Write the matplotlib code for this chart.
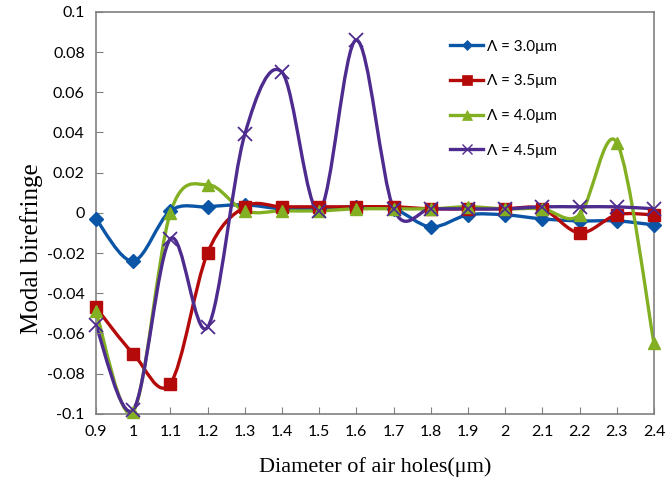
import numpy as np
import matplotlib
matplotlib.use('Agg')
import matplotlib.pyplot as plt
from matplotlib.path import Path
from matplotlib.patches import PathPatch
from matplotlib.lines import Line2D

# Diameter of air holes (um)
diameters = [0.9, 1.0, 1.1, 1.2, 1.3, 1.4, 1.5, 1.6, 1.7, 1.8, 1.9, 2.0, 2.1, 2.2, 2.3, 2.4]

# Modal birefringence for each pitch
bf_30 = [-0.003, -0.024, 0.001, 0.003, 0.004, 0.002, 0.002, 0.003, 0.002, -0.007,
         -0.001, -0.001, -0.003, -0.004, -0.004, -0.006]
bf_35 = [-0.047, -0.070, -0.085, -0.020, 0.003, 0.003, 0.003, 0.003, 0.003, 0.002,
         0.002, 0.002, 0.002, -0.010, -0.001, -0.001]
bf_40 = [-0.049, -0.099, 0.000, 0.014, 0.001, 0.001, 0.001, 0.002, 0.002, 0.002,
         0.003, 0.002, 0.002, -0.001, 0.035, -0.065]
bf_45 = [-0.056, -0.098, -0.013, -0.057, 0.039, 0.070, 0.001, 0.086, 0.002, 0.002,
         0.002, 0.002, 0.003, 0.003, 0.003, 0.002]

labels = ['Λ = 3.0μm', 'Λ = 3.5μm', 'Λ = 4.0μm', 'Λ = 4.5μm']
colors = ['#0B55A6', '#B40A0A', '#82B022', '#4E2B8E']
markers = ['D', 's', '^', 'x']
msizes = [7, 9, 9, 10]


def smooth_path(x, y):
    # Excel-style smoothed line: cubic Bezier through every point
    pts = np.column_stack([x, y])
    verts = [pts[0]]
    codes = [Path.MOVETO]
    n = len(pts)
    for i in range(n - 1):
        p0 = pts[i - 1] if i > 0 else pts[i]
        p1 = pts[i]
        p2 = pts[i + 1]
        p3 = pts[i + 2] if i + 2 < n else pts[i + 1]
        c1 = p1 + (p2 - p0) / 6.0
        c2 = p2 - (p3 - p1) / 6.0
        verts += [c1, c2, p2]
        codes += [Path.CURVE4] * 3
    return Path(verts, codes)


fig = plt.figure(figsize=(6.66, 4.95), dpi=100)
ax = fig.add_axes([0.144, 0.164, 0.838, 0.812])

handles = []
for ys, c, m, ms, lab in zip([bf_30, bf_35, bf_40, bf_45], colors, markers, msizes, labels):
    patch = PathPatch(smooth_path(diameters, ys), facecolor='none', edgecolor=c, lw=2.4,
                      capstyle='round', joinstyle='round')
    ax.add_patch(patch)
    mew = 1.3 if m == 'x' else 1
    ax.plot(diameters, ys, linestyle='none', marker=m, color=c, markersize=ms,
            markeredgewidth=mew, clip_on=False, zorder=3)
    handles.append(Line2D([], [], color=c, lw=2.4, marker=m, markersize=ms * 0.75,
                          markeredgewidth=1 if m == 'x' else 0.5, label=lab))

ax.set_xlim(0.9, 2.4)
ax.set_ylim(-0.1, 0.1)
ax.set_xticks(diameters)
ax.set_xticklabels(['0.9', '1', '1.1', '1.2', '1.3', '1.4', '1.5', '1.6', '1.7', '1.8',
                    '1.9', '2', '2.1', '2.2', '2.3', '2.4'])
ax.set_yticks(np.arange(-0.1, 0.1001, 0.02))
ax.set_yticklabels(['-0.1', '-0.08', '-0.06', '-0.04', '-0.02', '0', '0.02', '0.04',
                    '0.06', '0.08', '0.1'])
ax.tick_params(direction='in', length=5, color='#808080', labelsize=11.5, pad=8)
for lbl in ax.get_xticklabels() + ax.get_yticklabels():
    lbl.set_fontfamily('Lato')
for sp in ax.spines.values():
    sp.set_color('#808080')
    sp.set_linewidth(1.2)

ax.set_xlabel('Diameter of air holes(μm)', fontsize=16, fontfamily='Liberation Serif', labelpad=13)
ax.set_ylabel('Modal birefringe', fontsize=18, fontfamily='Liberation Serif')
ax.yaxis.set_label_coords(-0.095, 0.41)

leg = ax.legend(handles=handles, loc='upper right', bbox_to_anchor=(0.85, 0.965), frameon=False,
                prop={'family': 'Lato', 'size': 11}, labelspacing=1.35, handlelength=2.2,
                handletextpad=0.2)

fig.savefig('out.png', dpi=100)
